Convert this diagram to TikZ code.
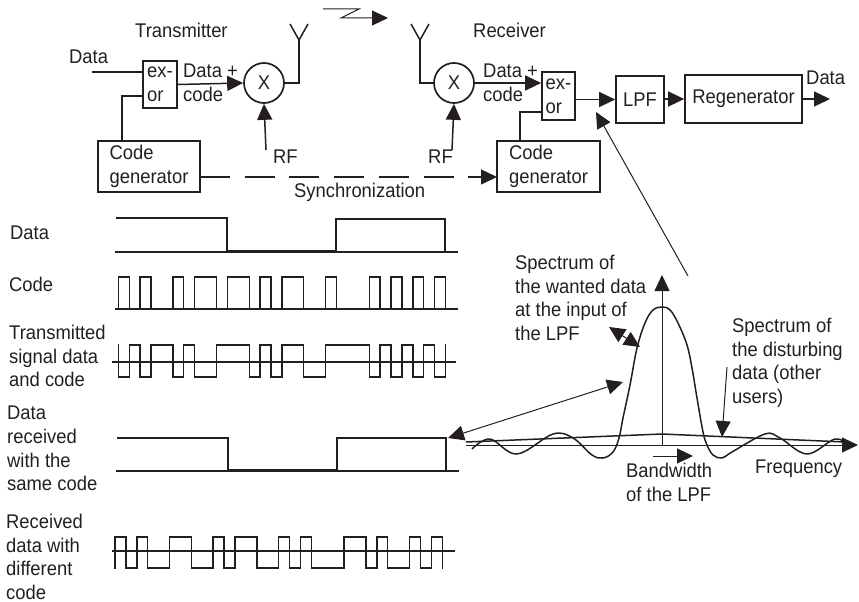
\documentclass[tikz,border=0pt]{standalone}
\usepackage{fontspec}
\setmainfont[FakeStretch=0.93]{Liberation Sans}
\usetikzlibrary{arrows.meta}
\definecolor{inkdark}{RGB}{35,31,32}
\tikzset{
  lab/.style    = {inner sep=0pt, anchor=west, align=left, text=inkdark,
                   font=\fontsize{19.8}{23.6}\selectfont},
  block/.style  = {draw=inkdark, line width=1.7pt, inner sep=0pt, align=left, text=inkdark,
                   font=\fontsize{19.8}{23.6}\selectfont},
  mixer/.style  = {block, circle, minimum size=40pt},
  link/.style   = {draw=inkdark, line width=1.5pt},
  flow/.style   = {link, -{Triangle[length=16pt,width=15pt]}},
  thin/.style   = {draw=inkdark, line width=1pt},
  thinflow/.style = {thin, -{Triangle[length=16pt,width=15pt]}},
  thinboth/.style = {thin, {Triangle[length=16pt,width=15pt]}-{Triangle[length=16pt,width=15pt]}},
  wave/.style   = {draw=inkdark, line width=1.4pt, line cap=rect},
}
% one chip of 10.91 per list entry
\newcommand{\chipwave}[4]{%
  \draw[wave] (#1,#2) -- (#1,#3);
  \draw[wave] ({#1+30*10.91},#2) -- ({#1+30*10.91},#3);
  \foreach \b [count=\i from 0, remember=\b as \p (initially 0)] in {#4} {
    \draw[wave] ({#1+\i*10.91},{#2+\p*(#3-#2)}) -- ({#1+\i*10.91},{#2+\b*(#3-#2)})
      -- ({#1+(\i+1)*10.91},{#2+\b*(#3-#2)});
  }%
}
\begin{document}
\begin{tikzpicture}[x=1pt, y=-1pt]
  \useasboundingbox (0,0) rectangle (859,602);

  % transmitter
  \node[lab] (txtitle) at (135,30) {Transmitter};
  \node[lab] (txdata) at (69,57) {Data};
  \node[block, minimum width=34pt, minimum height=47pt] (exora) at (160,84.5) {ex-\\or};
  \node[block, minimum width=102pt, minimum height=51pt] (gena) at (149,166.5) {Code\\generator};
  \node[mixer] (mixa) at (264,83) {X};
  \node[lab] (dataa) at (183,82.5) {Data +\\code};
  \node[lab] (rfa) at (273,157) {RF};
  \coordinate (datain) at (92,72);
  \coordinate (genupa) at (122,141);
  \coordinate (exorina) at (143,96);
  \coordinate (rfina) at (266,150);
  \coordinate (anta) at (299,40);
  \coordinate (antal) at (290,24);
  \coordinate (antar) at (308,24);

  \draw[link] (datain) -- (datain -| exora.west);
  \draw[link] (genupa) |- (exorina);
  \draw[flow] (exora.east) -- (mixa.west);
  \draw[flow] (rfina) -- (mixa.south);
  \draw[link] (mixa.east) -| (anta);
  \draw[link] (antal) -- (anta) -- (antar);

  % radio path
  \coordinate (zapa) at (323,9);
  \coordinate (zapb) at (359,9);
  \coordinate (zapc) at (341,18);
  \coordinate (zapd) at (388,18);
  \draw[thinflow] (zapa) -- (zapb) -- (zapc) -- (zapd);

  % receiver
  \node[lab] (rxtitle) at (473,30) {Receiver};
  \node[mixer] (mixb) at (454,83) {X};
  \node[lab] (datab) at (483,83) {Data +\\code};
  \node[lab] (rfb) at (428,157) {RF};
  \node[block, minimum width=33pt, minimum height=48pt] (exorb) at (558.5,96) {ex-\\or};
  \node[block, minimum width=48pt, minimum height=47pt] (lpf) at (640,99.5) {LPF};
  \node[block, minimum width=117pt, minimum height=48pt] (regen) at (743.5,99) {Regenerator};
  \node[block, minimum width=103pt, minimum height=51pt] (genb) at (548.5,166.5) {Code\\generator};
  \node[lab] (dataout) at (806,78) {Data};
  \node[lab] (syncl) at (294,192) {Synchronization};
  \coordinate (antb) at (420,40);
  \coordinate (antbl) at (411,24);
  \coordinate (antbr) at (429,24);
  \coordinate (rfinb) at (452,150);
  \coordinate (genupb) at (520,141);
  \coordinate (exorinb) at (542,112);
  \coordinate (regenout) at (830,99);
  \coordinate (synca) at (200,177);
  \coordinate (syncb) at (497,177);

  \draw[link] (antbl) -- (antb) -- (antbr);
  \draw[link] (antb) |- (mixb.west);
  \draw[flow] (rfinb) -- (mixb.south);
  \draw[flow] (mixb.east) -- (mixb.east -| exorb.west);
  \draw[link] (genupb) |- (exorinb);
  \draw[flow] (exorb.east |- lpf.west) -- (lpf.west);
  \draw[flow] (lpf.east |- regen.west) -- (regen.west);
  \draw[flow] (regen.east) -- (regenout);
  \draw[flow, dash pattern=on 30pt off 14.7pt] (synca) -- (syncb);

  % waveforms
  \node[lab] (wdata) at (10,233) {Data};
  \node[lab] (wcode) at (9,284) {Code};
  \node[lab] (wsig) at (9,356) {Transmitted\\signal data\\and code};
  \node[lab] (wrx) at (7,448.5) {Data\\received\\with the\\same code};
  \node[lab] (wdiff) at (6,557) {Received\\data with\\different\\code};

  \draw[wave] (116,252) -- (457,252);
  \draw[wave] (117,218) -- (227,218) -- (227,251) -- (336,251) -- (336,219) -- (445,219) -- (445,252);

  \draw[wave, line width=1.8pt] (116,309) -- (457,309);
  \chipwave{118.3}{309}{277}{1,0,1,0,0,1,0,1,1,0,1,1,0,1,0,1,1,0,0,1,0,0,0,1,0,1,0,1,0,1}

  \draw[wave] (113,362) -- (455,362);
  \chipwave{118.3}{377}{345}{0,1,0,1,1,0,1,0,0,1,1,1,0,1,0,1,1,0,0,1,1,1,1,0,1,0,1,0,1,0}

  \draw[wave] (117,471) -- (458,471);
  \draw[wave] (118,438) -- (228,438) -- (228,470) -- (337,470) -- (337,438) -- (446,438) -- (446,471);

  \draw[wave] (113,551) -- (454,551);
  \chipwave{115}{568}{537}{1,0,1,0,0,1,1,0,0,1,0,1,1,0,0,1,0,1,0,0,0,1,1,0,1,0,0,1,0,1}

  % spectrum
  \node[lab] (wanted) at (515,298) {Spectrum of\\the wanted data\\at the input of\\the LPF};
  \node[lab] (disturb) at (732,363) {Spectrum of\\the disturbing\\data (other\\users)};
  \node[lab] (bandw) at (626,482.5) {Bandwidth\\of the LPF};
  \node[lab] (freq) at (755,469) {Frequency};
  \coordinate (axisl) at (466,445);
  \coordinate (axisr) at (858,445);
  \coordinate (axiso) at (662,445);
  \coordinate (axist) at (662,275);
  \coordinate (lpfin) at (596,112);
  \coordinate (specup) at (688,276);
  \coordinate (rxend) at (448,438);
  \coordinate (specedge) at (623,382);
  \coordinate (wanteda) at (609,327);
  \coordinate (wantedb) at (640,347);
  \coordinate (disturba) at (727,367);
  \coordinate (disturbb) at (722,437);
  \coordinate (bwa) at (653,456);
  \coordinate (bwb) at (693,456);

  \draw[thinflow] (axisl) -- (axisr);
  \draw[thinflow] (axiso) -- (axist);
  \draw[thinflow] (specup) -- (lpfin);
  \draw[thinboth] (rxend) -- (specedge);
  \draw[thinboth] (wanteda) -- (wantedb);
  \draw[thinflow] (disturba) -- (disturbb);
  \draw[thinflow] (bwa) -- (bwb);
  \draw[link] (466,442) -- (662,434) -- (845,442);
  \draw[link, line join=round] plot[smooth, tension=0.6] coordinates {
    (472,449) (490,439) (517,454) (553,434) (573,438) (592,455) (603,458) (613,452) (619,438)
    (623,418) (630,385) (637,348) (645,323) (653,310) (662,307) (670,310) (678,323) (687,345)
    (692,368) (697,398) (703,432) (707,445) (713,455) (722,458) (732,452)
    (765,434) (780,438) (807,454) (835,439) (848,445)};
\end{tikzpicture}
\end{document}
